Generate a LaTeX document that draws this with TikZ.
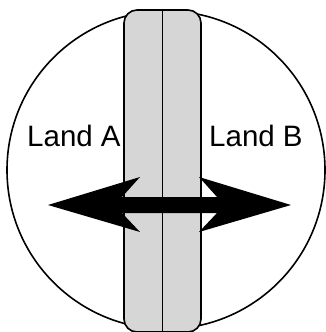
\documentclass[tikz,border=0pt]{standalone}
\usepackage{fontspec}
\setmainfont{Liberation Sans}
\begin{document}
\begin{tikzpicture}[x=1pt,y=-1pt,
  outline/.style={draw=black,line width=1.6pt},
  landlabel/.style={font=\fontsize{29.5}{32}\selectfont,inner sep=0pt,anchor=base west}]
\definecolor{bridgegray}{RGB}{214,214,214}
\useasboundingbox (0,0) rectangle (326,332);
\begin{scope}
\clip (0,0) rectangle (326,332);
\draw[outline,fill=white] (166,170) circle[radius=159];
\draw[outline,fill=bridgegray,rounded corners=13pt] (124,10) rectangle (201,332);
\draw[line width=1.6pt] (162.5,10) -- (162.5,332);
\end{scope}
\node[landlabel] (la) at (27,146) {Land A};
\node[landlabel] (lb) at (209,146) {Land B};
\fill[black] (48,205) -- (140,177) -- (122,197) -- (217,197) -- (199,177) -- (291,205)
  -- (199,232) -- (217,213) -- (122,213) -- (140,232) -- cycle;
\end{tikzpicture}
\end{document}
